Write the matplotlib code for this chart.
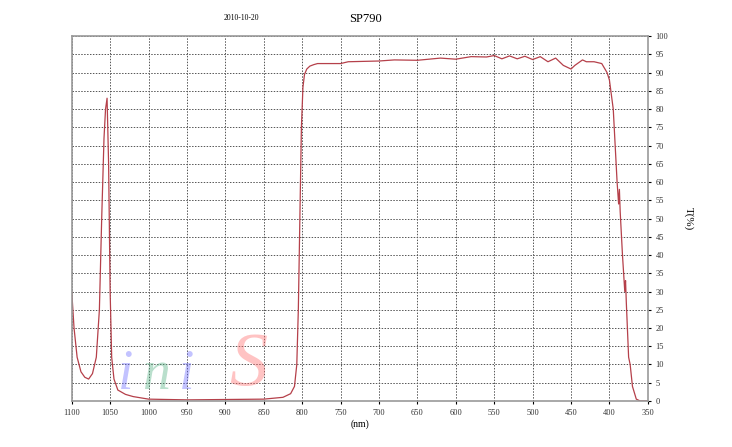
import matplotlib.pyplot as plt
import numpy as np

wavelength = [1100, 1097, 1093, 1088, 1083, 1078, 1073, 1068, 1064, 1061, 1058, 1056, 1054, 1052, 1050, 1048, 1045,
              1040, 1030, 1020, 1000, 950, 850, 825, 815, 810, 807, 805, 803, 801, 799, 797, 794, 790, 785, 780, 750,
              740, 700, 680, 650, 620, 600, 580, 560, 550, 540, 530, 520, 510, 500, 490, 480,
              470, 460, 450, 445, 435, 430, 420, 410, 403, 400, 395, 390, 388, 387, 386, 383,
              380, 379, 378, 375, 373, 370, 365, 360, 350]
transmit = [30, 20, 12, 8, 6.5, 6, 7.5, 12, 25, 50, 72, 80, 83, 65, 30, 12, 6,
            3, 1.8, 1.2, 0.5, 0.3, 0.5, 1, 2, 4, 10, 25, 50, 75, 86, 89.5, 91, 91.8, 92.2, 92.5, 92.5,
            93, 93.2, 93.5, 93.4, 94, 93.7, 94.4, 94.3, 94.7, 93.8, 94.6, 93.8, 94.5, 93.6, 94.4, 93,
            94, 92, 91, 92, 93.5, 93, 93, 92.5, 90, 88, 80, 60, 54, 58, 52, 40,
            30, 33, 27, 12, 10, 4, 0.5, 0, 0]

fig = plt.figure(figsize=(7.32, 4.47), dpi=100)
ax = fig.add_axes([0.098, 0.103, 0.787, 0.816])
ax.plot(wavelength, transmit, color='#b5404a', lw=0.9)
ax.set_xlim(1100, 350)
ax.set_ylim(0, 100)
ax.set_xticks(np.arange(350, 1101, 50))
ax.set_yticks(np.arange(0, 101, 5))
ax.yaxis.tick_right()
ax.yaxis.set_label_position('right')
ax.tick_params(labelsize=6, length=2, labelcolor='#333333')
for lab in ax.get_xticklabels() + ax.get_yticklabels():
    lab.set_family('Liberation Serif')
ax.grid(True, ls=(0, (1.5, 1.5)), color='#555555', lw=0.7)
for s in ax.spines.values():
    s.set_color('#999999')
    s.set_linewidth(1.2)
ax.set_xlabel('(nm)', fontsize=7, family='Liberation Serif', labelpad=2)
ax.set_ylabel('T(%)', fontsize=8, family='Liberation Serif', rotation=270, labelpad=18)
fig.text(0.50, 0.95, 'SP790', fontsize=9, family='Liberation Serif', ha='center')
fig.text(0.33, 0.955, '2010-10-20', fontsize=5.5, family='Liberation Serif', ha='center')

# faint watermark logo
for txt, x, col in [('i', 1030, '#6a6aff'), ('n', 990, '#50b080'), ('i', 950, '#6a6aff'), ('S', 870, '#ff6a6a')]:
    ax.text(x, 0, txt, fontsize=40 if txt != 'S' else 55, style='italic', color=col,
            alpha=0.4, ha='center', va='bottom', family='Liberation Serif')
plt.savefig('out.png', dpi=100)
